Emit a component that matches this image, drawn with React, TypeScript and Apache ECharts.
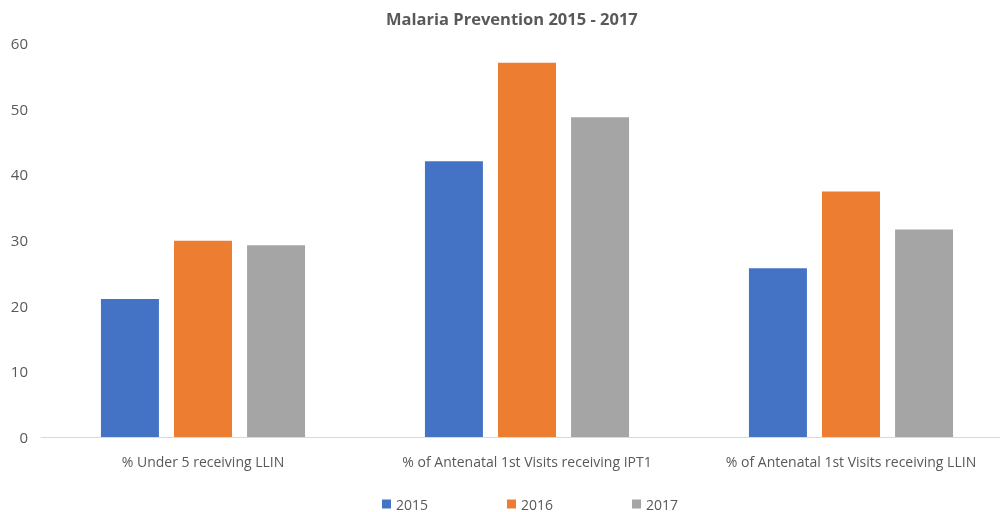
import React, { useEffect, useRef } from "react";
import * as echarts from "echarts";

const categories = [
  "% Under 5 receiving LLIN",
  "% of Antenatal 1st Visits receiving IPT1",
  "% of Antenatal 1st Visits receiving LLIN",
];
const years = ["2015", "2016", "2017"];
const values2015 = [21, 42, 25.7];
const values2016 = [29.9, 57, 37.4];
const values2017 = [29.2, 48.7, 31.6];
const colors = ["#4472C4", "#ED7D31", "#A5A5A5"];

export default function App() {
  const ref = useRef<HTMLDivElement>(null);
  useEffect(() => {
    document.body.style.margin = "0";
    const chart = echarts.init(ref.current!, null, { renderer: "svg" });
    const font = "'Open Sans', 'Noto Sans', sans-serif";
    const data = [values2015, values2016, values2017];
    chart.setOption({
      animation: false,
      color: colors,
      title: {
        text: "Malaria Prevention 2015 - 2017",
        left: 381,
        top: 5,
        textStyle: { fontFamily: font, fontSize: 16.5, fontWeight: "bold", color: "#595959" },
      },
      legend: {
        top: 492,
        left: 377,
        itemWidth: 9,
        itemHeight: 9,
        itemGap: 79,
        icon: "rect",
        textStyle: { fontFamily: font, fontSize: 14, color: "#595959" },
        data: years,
      },
      grid: { left: 41, width: 972, top: 43, bottom: 75, outerBoundsMode: "none" },
      xAxis: {
        type: "category",
        data: categories,
        axisLine: { lineStyle: { color: "#D9D9D9" } },
        axisTick: { show: false },
        axisLabel: { interval: 0, hideOverlap: false, fontFamily: font, fontSize: 14, color: "#595959", margin: 17 },
      },
      yAxis: {
        type: "value",
        min: 0,
        max: 60,
        interval: 10,
        splitLine: { show: false },
        axisLine: { show: false },
        axisTick: { show: false },
        axisLabel: { fontFamily: font, fontSize: 15, color: "#595959", margin: 13 },
      },
      series: years.map((y, i) => ({
        name: y,
        type: "bar",
        data: data[i],
        barGap: "26%",
        barCategoryGap: "37%",
        itemStyle: { color: colors[i] },
      })),
    });
    return () => chart.dispose();
  }, []);
  return <div ref={ref} style={{ position: "fixed", left: 0, top: 0, width: 1000, height: 512 }} />;
}
